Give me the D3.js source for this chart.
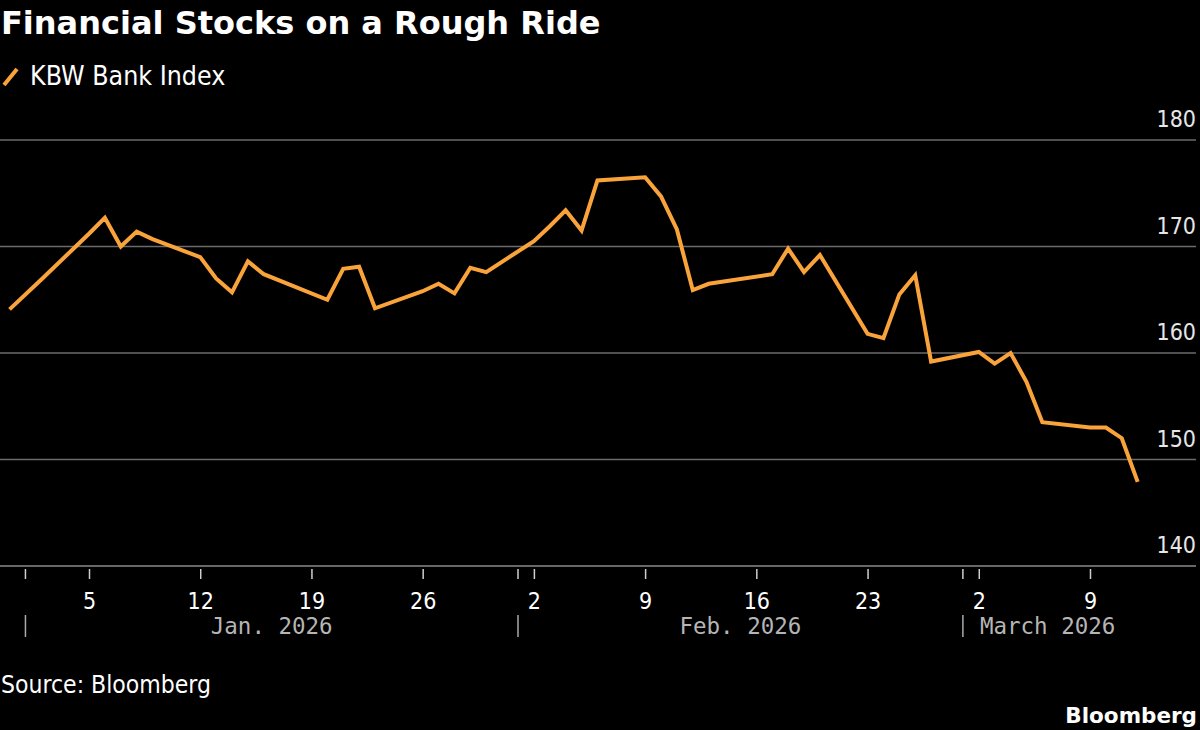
<!DOCTYPE html>
<html><head><meta charset="utf-8">
<script src="https://cdn.jsdelivr.net/npm/d3@7"></script>
<style>
html,body{margin:0;padding:0;background:#000;}
svg{display:block;}
</style></head>
<body>
<svg id="chart" width="1200" height="730"></svg>
<script>
const title = "Financial Stocks on a Rough Ride";
const seriesName = "KBW Bank Index";
const source = "Source: Bloomberg";
const dates = ["2025-12-31","2026-01-02","2026-01-05","2026-01-06","2026-01-07","2026-01-08","2026-01-09",
  "2026-01-12","2026-01-13","2026-01-14","2026-01-15","2026-01-16","2026-01-20","2026-01-21","2026-01-22","2026-01-23",
  "2026-01-26","2026-01-27","2026-01-28","2026-01-29","2026-01-30","2026-02-02","2026-02-03","2026-02-04","2026-02-05","2026-02-06",
  "2026-02-09","2026-02-10","2026-02-11","2026-02-12","2026-02-13","2026-02-17","2026-02-18","2026-02-19","2026-02-20",
  "2026-02-23","2026-02-24","2026-02-25","2026-02-26","2026-02-27","2026-03-02","2026-03-03","2026-03-04","2026-03-05","2026-03-06",
  "2026-03-09","2026-03-10","2026-03-11","2026-03-12"];
const values = [164.1,166.9,171.2,172.7,170.0,171.4,170.7,
  169.0,167.0,165.7,168.6,167.4,165.0,167.9,168.1,164.2,
  165.8,166.5,165.6,168.0,167.6,170.5,171.9,173.4,171.5,176.2,
  176.5,174.7,171.6,165.9,166.5,167.4,169.8,167.6,169.2,
  161.8,161.4,165.5,167.3,159.2,160.1,159.0,160.0,157.3,153.5,
  153.0,153.0,152.0,147.9];
const yTicks = [140,150,160,170,180];
const dayTicks = ["2026-01-05","2026-01-12","2026-01-19","2026-01-26","2026-02-02","2026-02-09","2026-02-16","2026-02-23","2026-03-02","2026-03-09"];
const monthStarts = ["2026-01-01","2026-02-01","2026-03-01"];
const monthLabels = ["Jan. 2026","Feb. 2026","March 2026"];

const parse = d3.utcParse("%Y-%m-%d");
const data = dates.map((d,i)=>({date:parse(d), value:values[i]}));

const svg = d3.select("#chart");
const FONT = "'Liberation Sans Narrow','DejaVu Sans Condensed','Roboto',sans-serif";
const MONO = "'DejaVu Sans Mono','Liberation Mono',monospace";

const x = d3.scaleUtc().domain([parse("2026-01-05"), parse("2026-03-09")]).range([89, 1090]);
const y = d3.scaleLinear().domain([140,180]).range([566,140]);
const plotLeft = 0, plotRight = 1196;

// title
svg.append("text").attr("x",1).attr("y",34).text(title)
  .attr("fill","#fff").attr("font-family","'DejaVu Sans',sans-serif").attr("font-weight","bold").attr("font-size",32);

// legend
svg.append("line").attr("x1",4).attr("y1",85).attr("x2",17).attr("y2",69)
  .attr("stroke","#f9a33a").attr("stroke-width",4).attr("stroke-linecap","butt");
svg.append("text").attr("x",30).attr("y",85).text(seriesName)
  .attr("fill","#fff").attr("font-family",FONT).attr("font-size",26.5);

// gridlines + y labels
const yg = svg.append("g");
yTicks.forEach(t=>{
  if (t !== 140) {
    yg.append("line").attr("x1",plotLeft).attr("x2",plotRight).attr("y1",y(t)).attr("y2",y(t))
      .attr("stroke","#6b6b6b").attr("stroke-width",1.5);
  }
  yg.append("text").attr("x",1196).attr("y",y(t)-13).attr("text-anchor","end").text(t)
    .attr("fill","#e6e6e6").attr("font-family",FONT).attr("font-size",23);
});

// x axis via d3.axisBottom
const xAxis = d3.axisBottom(x).tickValues(dayTicks.map(parse)).tickSize(10).tickPadding(8)
  .tickFormat(d3.utcFormat("%-d"));
const gx = svg.append("g").attr("transform",`translate(0,${y(140)})`).call(xAxis);
gx.select(".domain").remove();
gx.selectAll(".tick line").attr("stroke","#cfcfcf").attr("stroke-width",1.5).attr("y1",3).attr("y2",13);
gx.selectAll(".tick text").attr("fill","#fff").attr("font-family",FONT).attr("font-size",23).attr("dy","1.1em");
svg.append("line").attr("x1",plotLeft).attr("x2",plotRight).attr("y1",y(140)).attr("y2",y(140))
  .attr("stroke","#8a8a8a").attr("stroke-width",1.5);

// month boundaries
const mg = svg.append("g");
monthStarts.forEach((m,i)=>{
  const xm = x(parse(m));
  mg.append("line").attr("x1",xm).attr("x2",xm).attr("y1",y(140)+3).attr("y2",y(140)+13)
    .attr("stroke","#cfcfcf").attr("stroke-width",1.5);
  mg.append("line").attr("x1",xm).attr("x2",xm).attr("y1",615).attr("y2",637)
    .attr("stroke","#aaa").attr("stroke-width",1.5);
});
const monthEnd = [parse("2026-02-01"), parse("2026-03-01"), null];
monthLabels.forEach((lab,i)=>{
  const xs = x(parse(monthStarts[i]));
  let tx, anchor;
  if (monthEnd[i]) { tx = (xs + x(monthEnd[i]))/2; anchor="middle"; }
  else { tx = xs + 17; anchor="start"; }
  mg.append("text").attr("x",tx).attr("y",634).attr("text-anchor",anchor).text(lab)
    .attr("fill","#b5b5b5").attr("font-family",MONO).attr("font-size",22.5);
});

// line
const line = d3.line().x(d=>x(d.date)).y(d=>y(d.value));
svg.append("path").datum(data).attr("d",line).attr("fill","none")
  .attr("stroke","#f9a33a").attr("stroke-width",4).attr("stroke-linejoin","miter");

// source + logo
svg.append("text").attr("x",1).attr("y",693).text(source)
  .attr("fill","#fff").attr("font-family",FONT).attr("font-size",24.5);
svg.append("text").attr("x",1197).attr("y",723).attr("text-anchor","end").text("Bloomberg")
  .attr("fill","#fff").attr("font-family","'DejaVu Sans',sans-serif").attr("font-weight","bold").attr("font-size",21.5);
</script>
</body></html>
